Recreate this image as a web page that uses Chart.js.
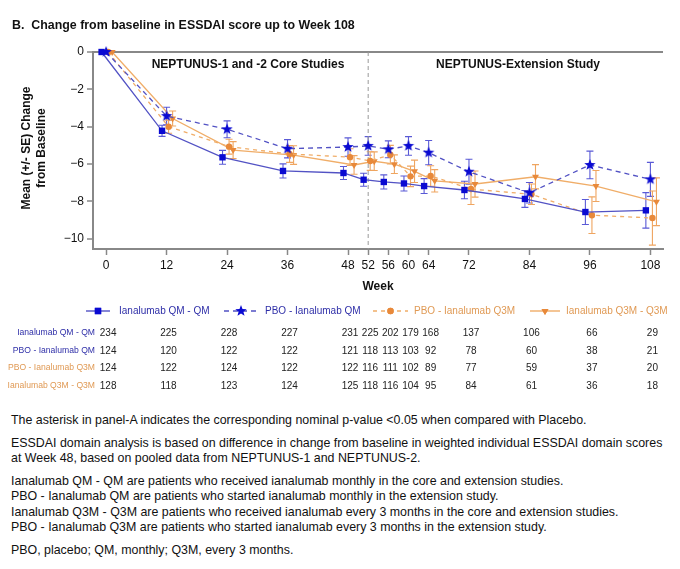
<!DOCTYPE html>
<html>
<head>
<meta charset="utf-8">
<script src="https://cdn.jsdelivr.net/npm/chart.js@4.4.0/dist/chart.umd.min.js"></script>
<style>
    body { margin: 0; background: #fff; font-family: "Liberation Sans", Arial, sans-serif; }
    #wrap { position: relative; width: 680px; height: 569px; }
    canvas { display: block; }
    .notes { position: absolute; left: 11px; top: 413px; font-size: 12.4px; color: #111; line-height: 15.5px; white-space: nowrap; }
    .notes p { margin: 0 0 7px 0; }
</style>
</head>
<body>
<div id="wrap">
    <canvas id="chart" width="680" height="400"></canvas>
    <div class="notes">
        <p>The asterisk in panel-A indicates the corresponding nominal p-value &lt;0.05 when compared with Placebo.</p>
        <p>ESSDAI domain analysis is based on difference in change from baseline in weighted individual ESSDAI domain scores<br>at Week 48, based on pooled data from NEPTUNUS-1 and NEPTUNUS-2.</p>
        <p>Ianalumab QM - QM are patients who received ianalumab monthly in the core and extension studies.<br>PBO - Ianalumab QM are patients who started ianalumab monthly in the extension study.<br>Ianalumab Q3M - Q3M are patients who received ianalumab every 3 months in the core and extension studies.<br>PBO - Ianalumab Q3M are patients who started ianalumab every 3 months in the extension study.</p>
        <p>PBO, placebo; QM, monthly; Q3M, every 3 months.</p>
    </div>
</div>
<script>
// data
const weeks = [0, 12, 24, 36, 48, 52, 56, 60, 64, 72, 84, 96, 108];
const yTicks = [0, -2, -4, -6, -8, -10];
const seriesNames = ["Ianalumab QM - QM", "PBO - Ianalumab QM", "PBO - Ianalumab Q3M", "Ianalumab Q3M - Q3M"];

const qmQm = [0, -4.22, -5.64, -6.37, -6.48, -6.84, -6.96, -7.04, -7.18, -7.39, -7.87, -8.57, -8.48];
const qmQmSE = [0, 0.3, 0.37, 0.38, 0.35, 0.35, 0.38, 0.4, 0.4, 0.47, 0.45, 0.67, 0.95];
const pboQm = [0, -3.43, -4.14, -5.18, -5.09, -5.03, -5.21, -5.03, -5.39, -6.41, -7.54, -6.05, -6.82];
const pboQmSE = [0, 0.47, 0.45, 0.49, 0.49, 0.5, 0.45, 0.5, 0.65, 0.67, 0.55, 0.74, 0.91];
const pboQ3m = [0, -4.0, -5.07, -5.46, -5.63, -5.84, -5.5, -6.66, -6.64, -7.34, -7.62, -8.74, -8.89];
const pboQ3mSE = [0, 0.35, 0.4, 0.45, 0.45, 0.5, 0.5, 0.55, 0.55, 0.83, 0.55, 0.98, 1.45];
const q3mQ3m = [0, -3.56, -5.25, -5.52, -6.05, -5.85, -6.01, -6.39, -6.9, -7.07, -6.68, -7.18, -8.02];
const q3mQ3mSE = [0, 0.4, 0.45, 0.5, 0.5, 0.5, 0.5, 0.6, 0.6, 0.7, 0.65, 0.83, 1.28];

const nQmQm = [234, 225, 228, 227, 231, 225, 202, 179, 168, 137, 106, 66, 29];
const nPboQm = [124, 120, 122, 122, 121, 118, 113, 103, 92, 78, 60, 38, 21];
const nPboQ3m = [124, 122, 124, 122, 122, 116, 111, 102, 89, 77, 59, 37, 20];
const nQ3mQ3m = [128, 118, 123, 124, 125, 118, 116, 104, 95, 84, 61, 36, 18];

// styles
const BLUE = "#0a0ad2";
const BLUE_LINE = "#5252c4";
const ORANGE = "#e8893a";
const ORANGE_LINE = "#f0ad68";
const FONT = '"Liberation Sans", Arial, sans-serif';

// 5-point star image for the PBO - QM markers
const makeStar = (r, color) => {
    const c = document.createElement("canvas");
    c.width = c.height = r * 2 + 2;
    const g = c.getContext("2d");
    g.fillStyle = color;
    g.beginPath();
    for (let i = 0; i < 10; i++) {
        const rad = i % 2 === 0 ? r : r * 0.42;
        const a = -Math.PI / 2 + (i * Math.PI) / 5;
        g.lineTo(r + 1 + rad * Math.cos(a), r + 1 + rad * Math.sin(a));
    }
    g.closePath();
    g.fill();
    return c;
};
const star = makeStar(6, BLUE);

const series = [
    { label: seriesNames[0], y: qmQm, se: qmQmSE, n: nQmQm, dx: -0.9, color: BLUE, line: BLUE_LINE, dash: [], style: "rect", radius: 4.5, rot: 0, text: "#2f2fa8" },
    { label: seriesNames[1], y: pboQm, se: pboQmSE, n: nPboQm, dx: 0, color: BLUE, line: BLUE_LINE, dash: [5, 4], style: star, radius: 6, rot: 0, text: "#2f2fa8" },
    { label: seriesNames[2], y: pboQ3m, se: pboQ3mSE, n: nPboQ3m, dx: 0.4, color: ORANGE, line: ORANGE_LINE, dash: [4, 4], style: "circle", radius: 3.2, rot: 0, text: "#e09a55" },
    { label: seriesNames[3], y: q3mQ3m, se: q3mQ3mSE, n: nQ3mQ3m, dx: 1.2, color: ORANGE, line: ORANGE_LINE, dash: [], style: "triangle", radius: 4, rot: 180, text: "#e09a55" },
];

const datasets = series.map((s) => ({
    label: s.label,
    data: weeks.map((w, i) => ({ x: w + s.dx, y: s.y[i] })),
    se: s.se,
    borderColor: s.line,
    borderWidth: 1.3,
    borderDash: s.dash,
    pointStyle: s.style,
    pointRadius: s.radius,
    pointRotation: s.rot,
    pointBackgroundColor: s.color,
    pointBorderColor: s.color,
    pointBorderWidth: 0,
    errColor: s.color === BLUE ? "#5a5ad6" : "#efa560",
    clip: false,
    tension: 0,
}));

// error bars drawn from the scale
const errorBars = {
    id: "errorBars",
    beforeDatasetsDraw(chart) {
        const { ctx } = chart;
        const yScale = chart.scales.y;
        chart.data.datasets.forEach((ds, di) => {
            const meta = chart.getDatasetMeta(di);
            ctx.save();
            ctx.strokeStyle = ds.errColor;
            ctx.lineWidth = 1.1;
            meta.data.forEach((pt, i) => {
                const e = ds.se[i];
                if (!e) return;
                const v = ds.data[i].y;
                const top = yScale.getPixelForValue(v + e);
                const bot = yScale.getPixelForValue(v - e);
                ctx.beginPath();
                ctx.moveTo(pt.x, top);
                ctx.lineTo(pt.x, bot);
                ctx.moveTo(pt.x - 3.5, top);
                ctx.lineTo(pt.x + 3.5, top);
                ctx.moveTo(pt.x - 3.5, bot);
                ctx.lineTo(pt.x + 3.5, bot);
                ctx.stroke();
            });
            ctx.restore();
        });
    },
};

// markers used in the legend
const drawMarker = (ctx, s, x, y) => {
    if (s.style === star) {
        ctx.drawImage(star, x - star.width / 2, y - star.height / 2);
        return;
    }
    Chart.helpers.drawPoint(ctx, { pointStyle: s.style, radius: s.radius, rotation: s.rot, borderWidth: 0 }, x, y);
    ctx.fill();
};

const extras = {
    id: "extras",
    beforeDatasetsDraw(chart) {
        const { ctx, chartArea } = chart;
        const x52 = chart.scales.x.getPixelForValue(52);
        ctx.save();
        ctx.strokeStyle = "#999";
        ctx.lineWidth = 1;
        ctx.setLineDash([4, 3]);
        ctx.beginPath();
        ctx.moveTo(x52, chartArea.top);
        ctx.lineTo(x52, chartArea.bottom);
        ctx.stroke();
        ctx.restore();
    },
    afterDraw(chart) {
        const { ctx } = chart;
        const xScale = chart.scales.x;
        ctx.save();
        ctx.fillStyle = "#111";
        ctx.textBaseline = "middle";

        // title
        ctx.font = `bold 12.4px ${FONT}`;
        ctx.textAlign = "left";
        ctx.fillText("B.  Change from baseline in ESSDAI score up to Week 108", 12, 26);

        // section headers
        ctx.font = `bold 12px ${FONT}`;
        ctx.textAlign = "center";
        ctx.fillText("NEPTUNUS-1 and -2 Core Studies", 248, 65);
        ctx.fillText("NEPTUNUS-Extension Study", 518, 65);

        // axis titles
        ctx.fillText("Week", 378, 287);
        ctx.save();
        ctx.translate(27, 148);
        ctx.rotate(-Math.PI / 2);
        ctx.fillText("Mean (+/- SE) Change", 0, 0);
        ctx.fillText("from Baseline", 0, 15);
        ctx.restore();

        // legend
        const legendX = [[86, 110, 119], [224, 258, 265], [373, 408, 414], [530, 560, 566]];
        ctx.font = `10px ${FONT}`;
        series.forEach((s, i) => {
            const [x0, x1, tx] = legendX[i];
            const ly = 311;
            ctx.save();
            ctx.strokeStyle = s.line;
            ctx.lineWidth = 1.4;
            ctx.setLineDash(s.dash);
            ctx.beginPath();
            ctx.moveTo(x0, ly);
            ctx.lineTo(x1, ly);
            ctx.stroke();
            ctx.restore();
            ctx.fillStyle = s.color;
            drawMarker(ctx, s, (x0 + x1) / 2, ly);
            ctx.fillStyle = s.text;
            ctx.textAlign = "left";
            ctx.fillText(s.label, tx, ly);
        });

        // numbers at risk
        const rowY = [333, 351, 368, 386];
        series.forEach((s, r) => {
            ctx.font = `8.6px ${FONT}`;
            ctx.fillStyle = s.text;
            ctx.textAlign = "right";
            ctx.fillText(s.label, 95, rowY[r]);
            ctx.fillStyle = "#222";
            ctx.textAlign = "center";
            ctx.font = `10px ${FONT}`;
            s.n.forEach((n, i) => {
                ctx.fillText(String(n), xScale.getPixelForValue(weeks[i]) + 2, rowY[r]);
            });
        });
        ctx.restore();
    },
};

new Chart(document.getElementById("chart"), {
    type: "line",
    data: { datasets },
    options: {
        responsive: false,
        animation: false,
        devicePixelRatio: 1,
        layout: { padding: { left: 0, top: 52, right: 17, bottom: 0 } },
        plugins: {
            legend: { display: false },
            tooltip: { enabled: false },
        },
        scales: {
            x: {
                type: "linear",
                min: -2.6,
                max: 110.5,
                afterBuildTicks: (scale) => {
                    scale.ticks = weeks.map((v) => ({ value: v }));
                },
                afterFit: (scale) => {
                    scale.height = 151;
                },
                ticks: {
                    autoSkip: false,
                    maxRotation: 0,
                    padding: 3,
                    color: "#111",
                    font: { size: 12, family: FONT },
                },
                grid: { drawOnChartArea: false, tickLength: 6, tickColor: "#888", tickWidth: 1.5 },
                border: { color: "#888", width: 2 },
            },
            y: {
                min: -10.55,
                max: 0,
                afterBuildTicks: (scale) => {
                    scale.ticks = yTicks.map((v) => ({ value: v }));
                },
                afterFit: (scale) => {
                    scale.width = 93;
                },
                ticks: {
                    padding: 3,
                    color: "#111",
                    font: { size: 12, family: FONT },
                    callback: (v) => (v === 0 ? "0" : "\u2212" + Math.abs(v)),
                },
                grid: {
                    color: (c) => (c.tick && c.tick.value === 0 ? "#888" : "rgba(0,0,0,0)"),
                    lineWidth: 2,
                    tickLength: 6,
                    tickColor: "#888",
                    tickWidth: 1.5,
                },
                border: { color: "#888", width: 2 },
            },
        },
    },
    plugins: [errorBars, extras],
});
</script>
</body>
</html>
